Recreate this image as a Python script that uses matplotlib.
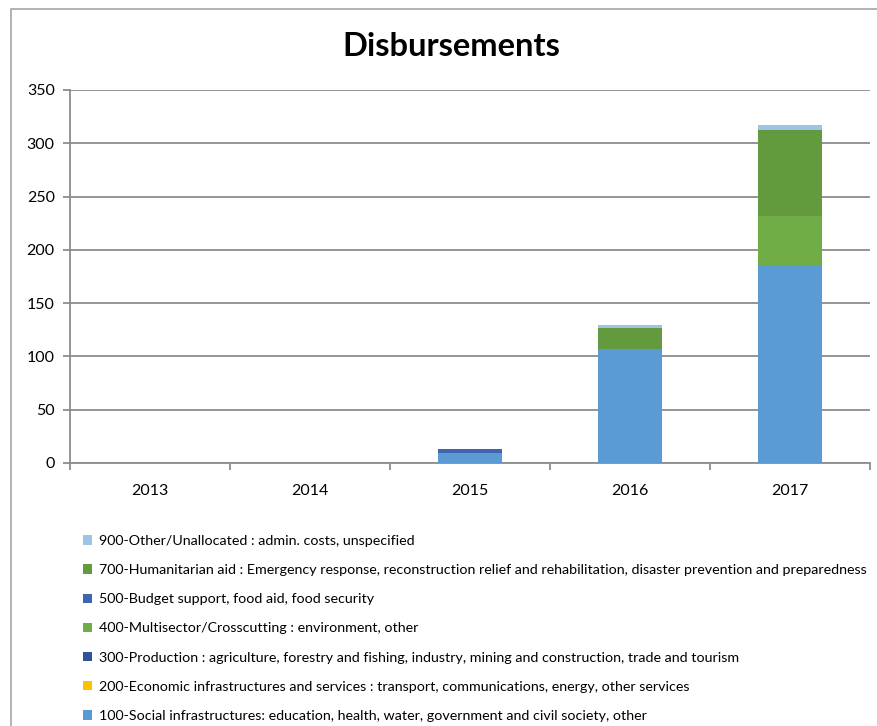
import matplotlib
matplotlib.use("Agg")
import matplotlib.pyplot as plt
from matplotlib.patches import Rectangle, Patch
import numpy as np

plt.rcParams['font.family'] = ['Lato', 'DejaVu Sans']

years = ['2013', '2014', '2015', '2016', '2017']

# stacked from bottom to top
sectors = [
    '100-Social infrastructures: education, health, water, government and civil society, other',
    '200-Economic infrastructures and services : transport, communications, energy, other services',
    '300-Production : agriculture, forestry and fishing, industry, mining and construction, trade and tourism',
    '400-Multisector/Crosscutting : environment, other',
    '500-Budget support, food aid, food security',
    '700-Humanitarian aid : Emergency response, reconstruction relief and rehabilitation, disaster prevention and preparedness',
    '900-Other/Unallocated : admin. costs, unspecified',
]
colors = ['#5B9BD5', '#FFC000', '#2E5496', '#70AD47', '#3F65B0', '#639A3E', '#9DC3E6']

s100 = [0, 0, 9.4, 107, 185]
s200 = [0, 0, 0, 0, 0]
s300 = [0, 0, 0, 0, 0]
s400 = [0, 0, 0, 0, 46.5]
s500 = [0, 0, 3.8, 0, 0]
s700 = [0, 0, 0, 19.7, 80.8]
s900 = [0, 0, 0, 2.6, 4.4]
values = [s100, s200, s300, s400, s500, s700, s900]

fig = plt.figure(figsize=(8.78, 7.26), dpi=100)
ax = fig.add_axes([70/878, 1 - 463/726, 800/878, 373/726])

# chart area border
fig.patches.append(Rectangle((11/878, -0.1), 1.2, 1 - 9/726 + 0.1, transform=fig.transFigure,
                             fill=False, edgecolor='#A6A6A6', linewidth=1.2, zorder=0))

x = np.arange(len(years))
bottom = np.zeros(len(years))
for vals, col in zip(values, colors):
    vals = np.array(vals, dtype=float)
    ax.bar(x, vals, width=0.395, bottom=bottom, color=col, zorder=3)
    bottom += vals

ax.set_xlim(-0.5, 4.5)
ax.set_ylim(0, 350)
ax.set_yticks(np.arange(0, 351, 50))
ax.yaxis.grid(True, color='#8C8C8C', linewidth=1.3, zorder=0)
ax.set_axisbelow(True)
ax.set_xticks(x)
ax.set_xticklabels(years)
ax.set_xticks(np.arange(-0.5, 4.6, 1), minor=True)
ax.tick_params(axis='x', which='major', length=0, pad=15, labelsize=11.5)
ax.tick_params(axis='x', which='minor', length=5, color='#8C8C8C', width=1.3)
ax.tick_params(axis='y', length=5, color='#8C8C8C', width=1.3, labelsize=11.5, pad=6)
for side in ['top', 'right']:
    ax.spines[side].set_visible(False)
for side in ['left', 'bottom']:
    ax.spines[side].set_color('#8C8C8C')
    ax.spines[side].set_linewidth(1.3)

fig.text(451/878, 1 - 47/726, 'Disbursements', ha='center', va='center',
         fontsize=23.5, fontweight='bold')

handles = [Patch(facecolor=c, edgecolor='none') for c in colors][::-1]
fig.legend(handles, sectors[::-1], loc='upper left', bbox_to_anchor=(83/878, 1 - 535/726),
           frameon=False, fontsize=10.3, handlelength=0.62, handleheight=0.62,
           handletextpad=0.5, labelspacing=1.2, borderpad=0, borderaxespad=0)

fig.savefig('out.png', dpi=100)
